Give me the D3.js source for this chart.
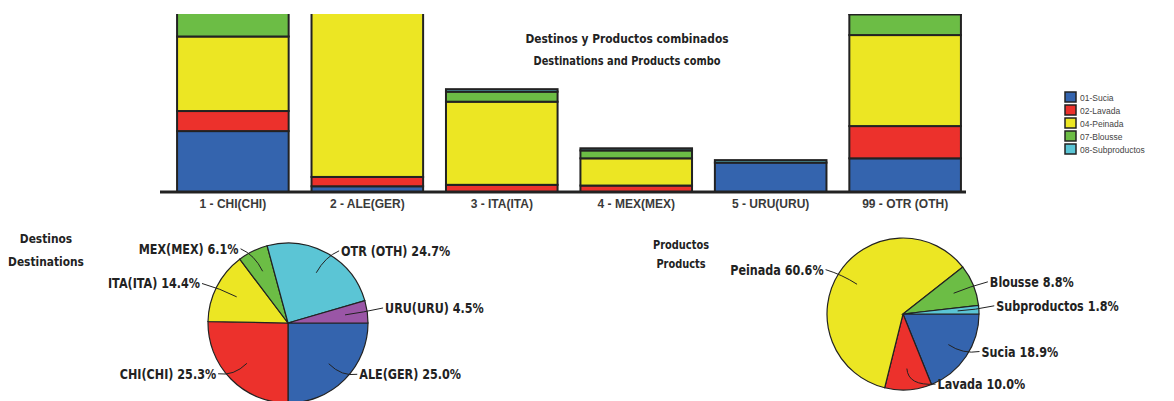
<!DOCTYPE html>
<html>
<head>
<meta charset="utf-8">
<script src="https://cdn.jsdelivr.net/npm/d3@7"></script>
<style>
  body { margin: 0; background: #fff; }
  svg { display: block; }
  .narrow { font-family: "DejaVu Sans", sans-serif; font-weight: bold; fill: #222; }
</style>
</head>
<body>
<script>
// destinations (bar order) and products
const destinos = ['1 - CHI(CHI)', '2 - ALE(GER)', '3 - ITA(ITA)', '4 - MEX(MEX)', '5 - URU(URU)', '99 - OTR (OTH)'];
const productos = ['01-Sucia', '02-Lavada', '04-Peinada', '07-Blousse', '08-Subproductos'];

// % of total per destination, split by product (Sucia, Lavada, Peinada, Blousse, Subproductos)
const sucia        = [8.5, 0.8, 0.0, 0.0, 4.1, 4.7];
const lavada       = [2.8, 1.3, 1.0, 0.9, 0.0, 4.5];
const peinada      = [10.4, 22.9, 11.6, 3.8, 0.0, 12.7];
const blousse      = [3.5, 0.0, 1.4, 1.1, 0.0, 2.9];
const subproductos = [0.1, 0.0, 0.35, 0.3, 0.35, 0.1];

// pie: destinos
const pieDestLabels = ['ALE(GER)', 'CHI(CHI)', 'ITA(ITA)', 'MEX(MEX)', 'OTR (OTH)', 'URU(URU)'];
const pieDestValues = [25.0, 25.3, 14.4, 6.1, 24.7, 4.5];
const pieDestColors = ['#3464ae', '#ec312c', '#ece623', '#6cbd45', '#5bc5d5', '#9a56a6'];

// pie: productos
const pieProdLabels = ['Sucia', 'Lavada', 'Peinada', 'Blousse', 'Subproductos'];
const pieProdValues = [18.9, 10.0, 60.6, 8.8, 1.8];

const prodColors = ['#3464ae', '#ec312c', '#ece623', '#6cbd45', '#5bc5d5'];

const width = 1174, height = 401;
const svg = d3.select('body').append('svg').attr('width', width).attr('height', height);

// narrow bold text (no condensed face available, so squeeze it)
function label(x, y, txt, size, anchor, squeeze = 0.86) {
  return svg.append('text').attr('class', 'narrow')
    .attr('transform', `translate(${x},${y}) scale(${squeeze},1)`)
    .attr('text-anchor', anchor).attr('font-size', size).text(txt);
}

// ---- stacked bars ----
const series = [sucia, lavada, peinada, blousse, subproductos];
const rows = destinos.map((d, i) => {
  const r = { cat: d };
  productos.forEach((p, j) => r[p] = series[j][i]);
  return r;
});
const stacked = d3.stack().keys(productos)(rows);

const x = d3.scaleBand().domain(destinos).range([169, 969]).paddingInner(0.17).paddingOuter(0.06);
const y = d3.scaleLinear().domain([0, 24.7]).range([192, 15]);

svg.append('clipPath').attr('id', 'plotclip')
  .append('rect').attr('x', 0).attr('y', 14).attr('width', width).attr('height', 200);

const bars = svg.append('g').attr('clip-path', 'url(#plotclip)');
stacked.forEach((s, j) => {
  bars.selectAll(null).data(s.filter(d => d[1] > d[0])).enter().append('rect')
    .attr('x', d => x(d.data.cat))
    .attr('width', x.bandwidth())
    .attr('y', d => y(d[1]))
    .attr('height', d => y(d[0]) - y(d[1]))
    .attr('fill', prodColors[j])
    .attr('stroke', '#222')
    .attr('stroke-width', 2);
});

const xAxis = svg.append('g').attr('transform', 'translate(0,192)')
  .call(d3.axisBottom(x).tickSize(0).tickPadding(7));
xAxis.select('.domain').attr('d', 'M160,0H966').attr('stroke', '#222').attr('stroke-width', 3);
xAxis.selectAll('text').attr('font-family', 'Arial, "Liberation Sans", sans-serif')
  .attr('font-weight', 'bold').attr('font-size', 12).attr('fill', '#3a3a3a');

label(627, 43, 'Destinos y Productos combinados', 13, 'middle', 0.82);
label(627, 65, 'Destinations and Products combo', 12, 'middle', 0.82);

// legend
const legend = svg.append('g').attr('transform', 'translate(1065,92)');
productos.forEach((p, i) => {
  const g = legend.append('g').attr('transform', `translate(0,${i * 13})`);
  g.append('rect').attr('width', 11).attr('height', 10)
    .attr('fill', prodColors[i]).attr('stroke', '#222').attr('stroke-width', 1.5);
  g.append('text').attr('x', 15).attr('y', 8.5).attr('font-size', 8.5)
    .attr('font-family', 'Arial, "Liberation Sans", sans-serif').attr('fill', '#444').text(p);
});

// ---- pies ----
function drawPie(cx, cy, r, labels, values, colors) {
  const pie = d3.pie().sort(null).startAngle(Math.PI / 2).endAngle(Math.PI / 2 + 2 * Math.PI);
  const arc = d3.arc().innerRadius(0).outerRadius(r);
  const arcs = pie(values);
  const g = svg.append('g').attr('transform', `translate(${cx},${cy})`);
  g.selectAll('path.slice').data(arcs).enter().append('path')
    .attr('class', 'slice')
    .attr('d', arc)
    .attr('fill', (d, i) => colors[i])
    .attr('stroke', '#222').attr('stroke-width', 1.2);

  const R = r * 1.15;
  arcs.forEach((d, i) => {
    const a = (d.startAngle + d.endAngle) / 2;
    const s = Math.sin(a), c = Math.cos(a);
    const side = s >= 0 ? 1 : -1;
    const lx = R * s + side * (6 + 30 * Math.pow(1 - Math.abs(s), 4));
    const ly = -0.85 * R * c;
    const p0 = [0.72 * r * s, -0.72 * r * c];
    const p1 = [0.95 * r * s, -0.95 * r * c];
    g.append('path')
      .attr('d', `M${p0[0]},${p0[1]}Q${p1[0]},${p1[1]} ${lx - side * 2},${ly - 4}`)
      .attr('fill', 'none').attr('stroke', '#222').attr('stroke-width', 1);
    label(cx + lx, cy + ly + 1, `${labels[i]} ${d3.format('.1f')(values[i])}%`, 14,
      side > 0 ? 'start' : 'end', 0.8);
  });
}

drawPie(288, 323, 80, pieDestLabels, pieDestValues, pieDestColors);
drawPie(903, 314, 76, pieProdLabels, pieProdValues, prodColors);

label(46, 243, 'Destinos', 13, 'middle', 0.82);
label(46, 266, 'Destinations', 13, 'middle', 0.82);
label(681, 249, 'Productos', 12, 'middle', 0.82);
label(681, 268, 'Products', 12, 'middle', 0.82);
</script>
</body>
</html>
